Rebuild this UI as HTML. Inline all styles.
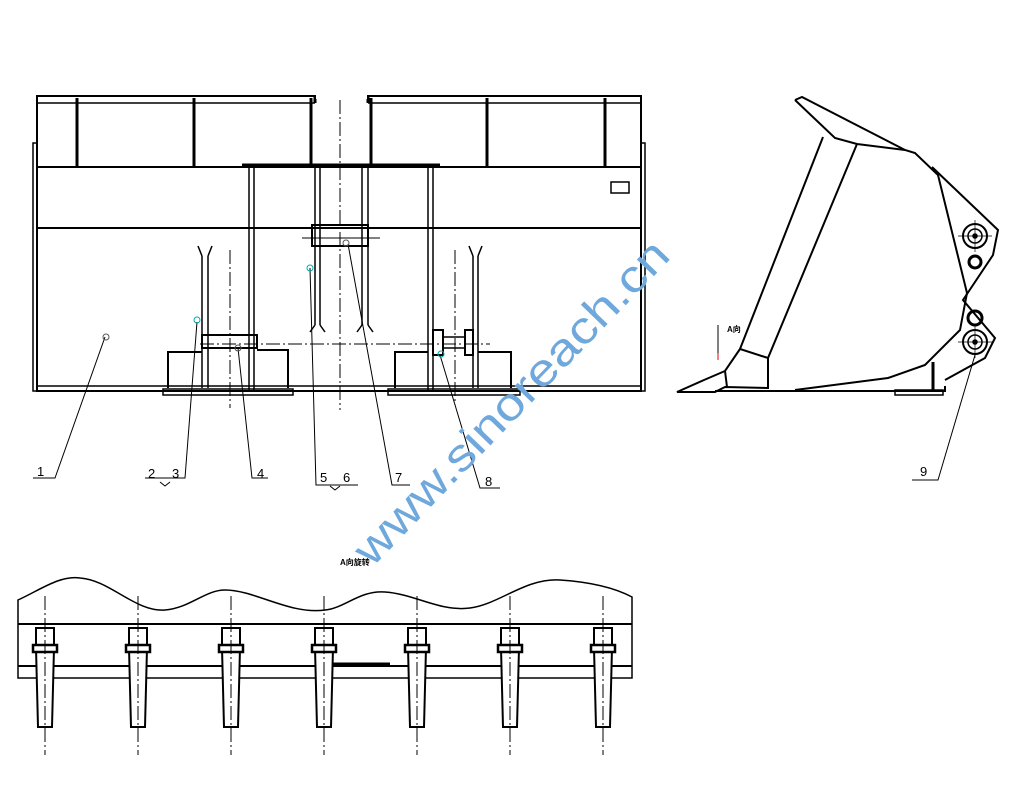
<!DOCTYPE html>
<html><head><meta charset="utf-8"><style>
html,body{margin:0;padding:0;background:#fff;}
svg{display:block;}
</style></head><body>
<svg width="1024" height="798" viewBox="0 0 1024 798" xmlns="http://www.w3.org/2000/svg" font-family="Liberation Sans, Noto Sans CJK SC, sans-serif">
<g fill="none" stroke="#000" stroke-width="1.5">
<!-- FRONT VIEW -->
<rect x="37" y="96" width="604" height="295" stroke-width="2"/>
<line x1="37" y1="103" x2="315" y2="103"/>
<line x1="368" y1="103" x2="641" y2="103"/>
<line x1="315" y1="96" x2="315" y2="103" stroke-width="3"/>
<line x1="368" y1="96" x2="368" y2="103" stroke-width="3"/>
<rect x="316" y="93" width="51" height="6" fill="#fff" stroke="none"/>
<line x1="37" y1="167" x2="641" y2="167" stroke-width="2"/>
<line x1="37" y1="228" x2="641" y2="228" stroke-width="2"/>
<line x1="37" y1="386" x2="641" y2="386"/>
<g stroke-width="3">
<line x1="77" y1="98" x2="77" y2="167"/><line x1="194" y1="98" x2="194" y2="167"/><line x1="311" y1="98" x2="311" y2="167"/>
<line x1="371" y1="98" x2="371" y2="167"/><line x1="487" y1="98" x2="487" y2="167"/><line x1="605" y1="98" x2="605" y2="167"/>
</g>
<rect x="33" y="143" width="4" height="248"/>
<rect x="641" y="143" width="4" height="248"/>
<rect x="611" y="182" width="18" height="11"/>
<rect x="163" y="389" width="130" height="6"/>
<rect x="388" y="389" width="132" height="6"/>
<line x1="242" y1="165" x2="440" y2="165" stroke-width="3"/>
<line x1="249" y1="165" x2="249" y2="391"/><line x1="254" y1="165" x2="254" y2="391"/>
<line x1="428" y1="165" x2="428" y2="391"/><line x1="433" y1="165" x2="433" y2="391"/>
<line x1="315" y1="167" x2="315" y2="325"/><line x1="320" y1="167" x2="320" y2="325"/>
<line x1="362" y1="167" x2="362" y2="325"/><line x1="368" y1="167" x2="368" y2="325"/>
<path d="M310 332 L315 325 M325 332 L320 325 M357 332 L362 325 M373 332 L368 325"/>
<rect x="312" y="225" width="56" height="21" stroke-width="2"/>
<line x1="302" y1="238" x2="380" y2="238" stroke-width="1"/>
<line x1="202" y1="256" x2="202" y2="388"/><line x1="208" y1="256" x2="208" y2="388"/>
<path d="M198 246 L202 256 M212 246 L208 256"/>
<rect x="202" y="335" width="55" height="13" stroke-width="2"/>
<path d="M168 388 V352 H202 M257 350 H288 V388" stroke-width="2"/>
<line x1="473" y1="256" x2="473" y2="388"/><line x1="478" y1="256" x2="478" y2="388"/>
<path d="M469 246 L473 256 M482 246 L478 256"/>
<rect x="433" y="330" width="10" height="25" stroke-width="2"/>
<rect x="465" y="330" width="8" height="25" stroke-width="2"/>
<line x1="443" y1="337" x2="465" y2="337"/><line x1="443" y1="348" x2="465" y2="348"/>
<path d="M395 388 V352 H428 M478 352 H511 V388" stroke-width="2"/>
<g stroke-width="1" stroke-dasharray="14,3,2,3">
<line x1="340" y1="100" x2="340" y2="410"/>
<line x1="230" y1="250" x2="230" y2="408"/>
<line x1="455" y1="250" x2="455" y2="405"/>
<line x1="200" y1="344" x2="490" y2="344"/>
</g>
<g stroke-width="1">
<path d="M105 337 L55 478 H33"/>
<path d="M197 322 L185 478 H145"/>
<path d="M238 348 L252 478 H268"/>
<path d="M310 268 L316 485 H358"/>
<path d="M348 244 L392 485 H410"/>
<path d="M440 355 L480 488 H500"/>
<path d="M160 482 L165 486 L170 482 M330 486 L335 490 L340 486"/>
</g>
<!-- SIDE VIEW -->
<path d="M795 100 L802 97 L905 150 L915 153 L938 175 L967 293 L960 330 L925 365 L888 378 L795 390" stroke-width="2"/>
<path d="M795 100 L835 138 L857 144 L905 150" stroke-width="2"/>
<path d="M823 137 L740 349 L768 358 L857 144" stroke-width="2"/>
<path d="M740 349 L725 371 L704 380 L677 392 L715 392 L725 387 L768 388 L768 358" stroke-width="2"/>
<path d="M725 371 L727 387" stroke-width="2"/>
<path d="M715 391 L945 391 L945 386" stroke-width="2"/>
<path d="M932 167 L998 230 L993 255 L963 300 L995 338 L985 358 L945 380" stroke-width="2"/>
<rect x="895" y="390" width="48" height="5" stroke-width="1.5"/>
<line x1="933" y1="362" x2="933" y2="390" stroke-width="3"/>
<circle cx="975" cy="236" r="12" stroke-width="2"/><circle cx="975" cy="236" r="7"/><circle cx="975" cy="236" r="2" fill="#000"/>
<circle cx="975" cy="262" r="6" stroke-width="3"/>
<circle cx="975" cy="318" r="7" stroke-width="3"/>
<circle cx="975" cy="342" r="12" stroke-width="2"/><circle cx="975" cy="342" r="7"/><circle cx="975" cy="342" r="2" fill="#000"/>
<path d="M958 236 H992 M958 342 H992 M975 220 V252 M975 326 V358" stroke-width="0.7"/>
<path d="M975 355 L938 480 H912" stroke-width="1"/>
<line x1="718" y1="325" x2="718" y2="355" stroke-width="1"/>
<line x1="718" y1="353" x2="718" y2="360" stroke="#e00" stroke-width="1"/>
<!-- BOTTOM VIEW -->
<path d="M18 608 L18 600 C40 590 60 575 80 578 C110 580 135 612 165 610 C190 608 205 590 225 590 C255 590 290 615 325 610 C345 608 360 590 385 592 C415 594 440 612 470 608 C500 604 525 578 560 580 C590 582 615 588 632 597 L632 678 L18 678 Z" stroke-width="1.5"/>
<line x1="18" y1="624" x2="632" y2="624" stroke-width="2"/>
<line x1="18" y1="666" x2="632" y2="666" stroke-width="2"/>
<line x1="333" y1="664" x2="390" y2="664" stroke-width="3"/>
<g stroke-width="2">
<g id="t"><path d="M36 628 H54 V648 L52 727 H38 L36 648 Z" fill="#fff"/><rect x="33" y="645" width="24" height="7" fill="#fff" stroke-width="2.5"/></g>
<use href="#t" x="93"/><use href="#t" x="186"/><use href="#t" x="279"/><use href="#t" x="372"/><use href="#t" x="465"/><use href="#t" x="558"/>
</g>
<g stroke-width="1" stroke-dasharray="14,3,2,3">
<line x1="45" y1="596" x2="45" y2="755"/><line x1="138" y1="596" x2="138" y2="755"/><line x1="231" y1="596" x2="231" y2="755"/><line x1="324" y1="596" x2="324" y2="755"/><line x1="417" y1="596" x2="417" y2="755"/><line x1="510" y1="596" x2="510" y2="755"/><line x1="603" y1="596" x2="603" y2="755"/>
</g>
</g>
<g fill="none" stroke-width="1">
<circle cx="106" cy="337" r="3" stroke="#555"/><circle cx="238" cy="348" r="3" stroke="#555"/><circle cx="346" cy="243" r="3" stroke="#555"/>
<circle cx="197" cy="320" r="3" stroke="#0aa"/><circle cx="310" cy="268" r="3" stroke="#0aa"/><circle cx="441" cy="354" r="3" stroke="#0aa"/>
</g>
<g font-size="13" fill="#000">
<text x="37" y="476">1</text><text x="148" y="478">2</text><text x="172" y="478">3</text>
<text x="257" y="478">4</text><text x="320" y="482">5</text><text x="343" y="482">6</text>
<text x="395" y="482">7</text><text x="485" y="486">8</text><text x="920" y="476">9</text>
</g>
<text x="727" y="332" font-size="8" font-weight="bold">A向</text>
<text x="340" y="565" font-size="8" font-weight="bold">A向旋转</text>
<text x="0" y="0" font-size="45" fill="#6fa8dc" textLength="432" lengthAdjust="spacingAndGlyphs" transform="translate(372,568) rotate(-46)">www.sinoreach.cn</text>
</svg>
</body></html>
